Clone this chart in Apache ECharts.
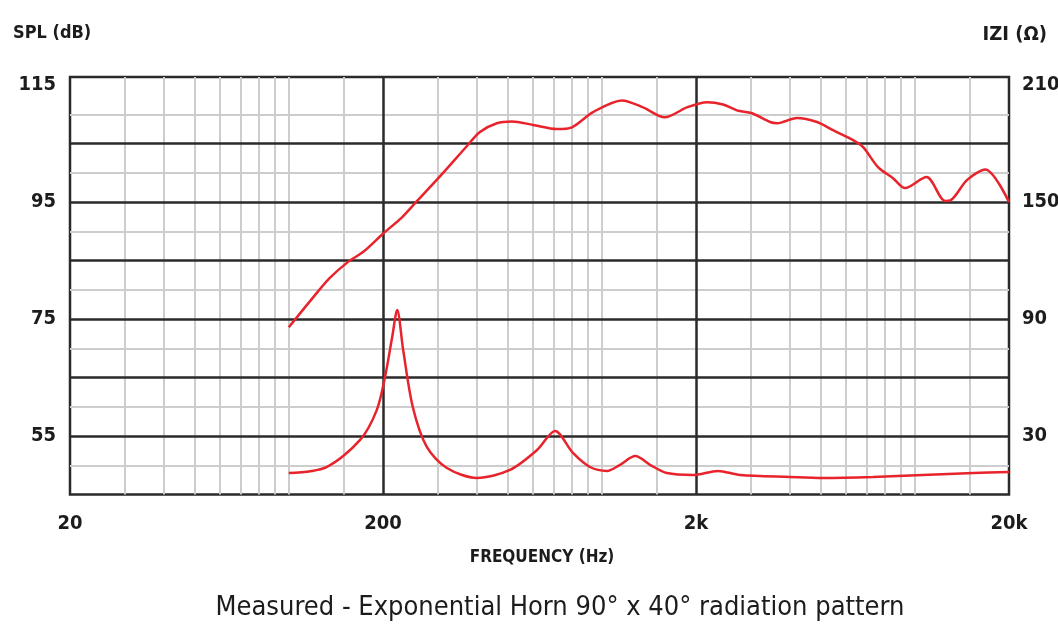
<!DOCTYPE html>
<html>
<head>
<meta charset="utf-8">
<script src="https://cdn.jsdelivr.net/npm/echarts@6/dist/echarts.min.js"></script>
<style>
html,body{margin:0;padding:0;background:#fff;}
#chart{width:1058px;height:633px;}
</style>
</head>
<body>
<div id="chart"></div>
<script>
// ---- Data ----
const freqSPL = [100, 120, 135, 154, 173, 200, 230, 257, 304, 371, 408, 462, 517, 603, 719, 803, 938, 1160, 1355, 1590, 1870, 2170, 2440, 2700, 3020, 3450, 3630, 4200, 4870, 5480, 6350, 6840, 7630, 8520, 9310, 10900, 12500, 13000, 14700, 16800, 20000];
const splDB   = [73.6, 78.8, 82.0, 84.7, 86.5, 89.6, 92.4, 95.2, 99.4, 104.6, 107.0, 108.5, 108.8, 108.2, 107.5, 107.8, 110.4, 112.4, 111.2, 109.5, 111.2, 112.1, 111.7, 110.7, 110.2, 108.7, 108.5, 109.4, 108.7, 107.3, 105.6, 104.4, 101.0, 99.1, 97.4, 99.3, 95.2, 95.3, 98.8, 100.6, 95.0];

const freqZ = [100, 132, 169, 191, 203, 214, 222, 232, 249, 276, 320, 399, 509, 621, 709, 809, 917, 1040, 1140, 1280, 1430, 1615, 1955, 2350, 2765, 3990, 5090, 7350, 10600, 15400, 20000];
const zOhm  = [11.0, 14.1, 28.0, 43.3, 60.3, 80.8, 94.6, 74.1, 44.9, 24.4, 13.6, 8.5, 12.6, 22.8, 32.6, 21.3, 14.1, 12.1, 15.1, 19.7, 15.1, 11.0, 10.0, 12.1, 10.0, 9.0, 8.5, 9.0, 10.0, 11.0, 11.5];

// ---- Tick labels and grid values ----
const freqTickLabels = ['20', '200', '2k', '20k'];
const splTickLabels = [55, 75, 95, 115];
const zTickLabels = [30, 90, 150, 210];
const majorFreqLines = [200, 2000];
const minorFreqLines = [30, 40, 50, 60, 70, 80, 90, 100, 150, 300, 400, 500, 600, 700, 800, 900, 1000, 1500, 3000, 4000, 5000, 6000, 7000, 8000, 9000, 10000, 15000];
const majorSplLines = [55, 65, 75, 85, 95, 105];
const minorSplLines = [50, 60, 70, 80, 90, 100, 110];

// ---- Styling ----
const FONT = "'Liberation Sans Narrow', 'DejaVu Sans Condensed', 'Arial Narrow', sans-serif";
const TXT = '#1c1c1c';
const RED = '#e8232b';
const DARK = '#2a2a2a';
const LIGHT = '#cdcdcd';

const gridLines = []
  .concat(minorFreqLines.map(v => ({ xAxis: v, lineStyle: { color: LIGHT, width: 2, type: 'solid' } })))
  .concat(minorSplLines.map(v => ({ yAxis: v, lineStyle: { color: LIGHT, width: 2, type: 'solid' } })))
  .concat(majorFreqLines.map(v => ({ xAxis: v, lineStyle: { color: DARK, width: 2.5, type: 'solid' } })))
  .concat(majorSplLines.map(v => ({ yAxis: v, lineStyle: { color: DARK, width: 2.5, type: 'solid' } })));

const chart = echarts.init(document.getElementById('chart'), null, { renderer: 'canvas' });
chart.setOption({
  animation: false,
  backgroundColor: '#fff',
  textStyle: { fontFamily: FONT },
  title: [
    { text: 'SPL (dB)', left: 8, top: 19, textStyle: { fontFamily: FONT, fontSize: 18, fontWeight: 'bold', color: TXT } },
    { text: 'IZI (Ω)', right: 6, top: 20, textStyle: { fontFamily: FONT, fontSize: 20, fontWeight: 'bold', color: TXT } },
    { text: 'FREQUENCY (Hz)', left: 537, top: 544, textAlign: 'center', textStyle: { fontFamily: FONT, fontSize: 17, fontWeight: 'bold', color: TXT } },
    { text: 'Measured - Exponential Horn 90° x 40° radiation pattern', left: 555, top: 589, textAlign: 'center', textStyle: { fontFamily: FONT, fontSize: 27, fontWeight: 'normal', color: TXT } }
  ],
  grid: {
    left: 70, right: 49, top: 77, bottom: 138.5,
    outerBoundsMode: 'none', containLabel: false,
    show: true, borderColor: DARK, borderWidth: 2.5, backgroundColor: '#fff'
  },
  xAxis: [
    {
      type: 'log', logBase: 10, min: 20, max: 20000, position: 'top', show: false
    },
    {
      type: 'category', data: freqTickLabels, boundaryGap: false, position: 'bottom',
      axisLine: { show: false }, axisTick: { show: false }, splitLine: { show: false },
      axisLabel: { margin: 19, fontFamily: FONT, fontSize: 20, fontWeight: 'bold', color: TXT }
    }
  ],
  yAxis: [
    {
      type: 'value', min: 45, max: 116.4, interval: 10, position: 'left',
      axisLine: { show: false }, axisTick: { show: false }, splitLine: { show: false },
      axisLabel: {
        margin: 14, fontFamily: FONT, fontSize: 20, fontWeight: 'bold', color: TXT,
        formatter: v => (splTickLabels.indexOf(Math.round(v * 10) / 10) >= 0 ? String(v) : '')
      }
    },
    {
      type: 'value', min: 0, max: 214.2, interval: 30, position: 'right',
      axisLine: { show: false }, axisTick: { show: false }, splitLine: { show: false },
      axisLabel: {
        margin: 13, fontFamily: FONT, fontSize: 20, fontWeight: 'bold', color: TXT,
        formatter: v => (zTickLabels.indexOf(Math.round(v * 10) / 10) >= 0 ? String(v) : '')
      }
    }
  ],
  series: [
    {
      name: 'SPL', type: 'line', xAxisIndex: 0, yAxisIndex: 0, z: 5,
      data: freqSPL.map((f, i) => [f, splDB[i]]),
      smooth: 0.3, showSymbol: false, symbol: 'none',
      lineStyle: { color: RED, width: 2.5 },
      markLine: {
        silent: true, z: 1, symbol: ['none', 'none'], animation: false,
        label: { show: false },
        data: gridLines
      }
    },
    {
      name: 'Impedance', type: 'line', xAxisIndex: 0, yAxisIndex: 1, z: 5,
      data: freqZ.map((f, i) => [f, zOhm[i]]),
      smooth: 0.3, showSymbol: false, symbol: 'none',
      lineStyle: { color: RED, width: 2.5 }
    }
  ]
});
</script>
</body>
</html>
